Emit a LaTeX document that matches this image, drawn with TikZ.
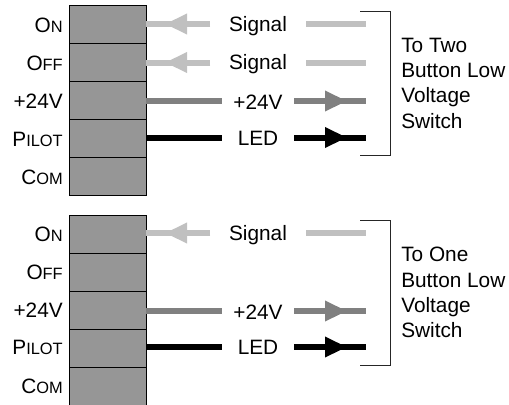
\documentclass[tikz,border=0pt]{standalone}
\usepackage{fontspec}
\setmainfont{Liberation Sans}
\usetikzlibrary{arrows.meta}

\definecolor{wirelight}{HTML}{C0C0C0}
\definecolor{wiremid}{HTML}{808080}
\definecolor{boxgray}{HTML}{969696}

\newcommand{\capsmall}[2]{#1{\fontsize{12.3}{12}\selectfont #2}}

\tikzset{
  rowbox/.style={draw=black, line width=0.75pt, fill=boxgray, minimum width=57.4pt, minimum height=28.6pt, inner sep=0pt, outer sep=0pt},
  pinlabel/.style={anchor=east, inner sep=0pt, font=\fontsize{15.6}{18}\selectfont},
  signame/.style={inner sep=0pt, outer sep=0pt, text height=11.2pt, text depth=0pt, font=\fontsize{15.6}{18}\selectfont, align=center},
  signalname/.style={signame, minimum width=72pt},
  powername/.style={signame, minimum width=54pt},
  wire/.style={line width=4.5pt},
  wirehead/.style={wire, -{Triangle[length=16.5pt, width=14.5pt]}},
  bracket/.style={draw=black!85, line width=0.75pt},
  switchname/.style={anchor=west, inner sep=0pt, align=left, font=\fontsize{15.6}{19}\selectfont}
}

\begin{document}
\begin{tikzpicture}[x=0.75pt, y=-0.75pt]
\useasboundingbox (0,0) rectangle (509,404);

% Wire heights, upper block
\def\wirea{24}
\def\wireb{62.5}
\def\wirec{101}
\def\wired{137.5}

% Wire heights, lower block
\def\wiree{233}
\def\wiref{311}
\def\wireg{347}

% Upper block
\node[rowbox] (onA) at (108.2, 24.7) {};
\node[rowbox] (offA) at (108.2, 63) {};
\node[rowbox] (powerA) at (108.2, 100.8) {};
\node[rowbox] (pilotA) at (108.2, 138.5) {};
\node[rowbox] (comA) at (108.2, 176.7) {};

\node[pinlabel] (onLabelA) at (63, 25) {\capsmall{O}{N}};
\node[pinlabel] (offLabelA) at (63, 63) {\capsmall{O}{FF}};
\node[pinlabel] (powerLabelA) at (63, 101) {+24V};
\node[pinlabel] (pilotLabelA) at (63, 139) {\capsmall{P}{ILOT}};
\node[pinlabel] (comLabelA) at (63, 177) {\capsmall{C}{OM}};

% Lower block
\node[rowbox] (onB) at (108.2, 234.5) {};
\node[rowbox] (offB) at (108.2, 272.5) {};
\node[rowbox] (powerB) at (108.2, 310.5) {};
\node[rowbox] (pilotB) at (108.2, 348.5) {};
\node[rowbox] (comB) at (108.2, 386.5) {};

\node[pinlabel] (onLabelB) at (63, 234) {\capsmall{O}{N}};
\node[pinlabel] (offLabelB) at (63, 272.5) {\capsmall{O}{FF}};
\node[pinlabel] (powerLabelB) at (63, 310.5) {+24V};
\node[pinlabel] (pilotLabelB) at (63, 347.5) {\capsmall{P}{ILOT}};
\node[pinlabel] (comLabelB) at (63, 386.5) {\capsmall{C}{OM}};

% Signal names
\node[signalname] (signalA) at (258, \wirea) {Signal};
\node[signalname] (signalB) at (258, \wireb) {Signal};
\node[powername] (powerName) at (258, \wirec + 1.5) {+24V};
\node[powername] (ledName) at (258, \wired + 0.5) {LED};
\node[signalname] (signalC) at (258, \wiree) {Signal};
\node[powername] (powerNameB) at (258, \wiref + 1.5) {+24V};
\node[powername] (ledNameB) at (258, \wireg + 0.5) {LED};

% Arrow tips and free wire ends
\coordinate (tipA) at (165, \wirea);
\coordinate (tipB) at (165, \wireb);
\coordinate (tipC) at (347, \wirec);
\coordinate (tipD) at (347, \wired);
\coordinate (tipE) at (165, \wiree);
\coordinate (tipF) at (347, \wiref);
\coordinate (tipG) at (347, \wireg);
\coordinate (endA) at (366, \wirea);
\coordinate (endB) at (366, \wireb);
\coordinate (endC) at (366, \wirec);
\coordinate (endD) at (366, \wired);
\coordinate (endE) at (366, \wiree);
\coordinate (endF) at (366, \wiref);
\coordinate (endG) at (366, \wireg);

% Upper wires
\draw[wire, wirelight] (signalA.west) -- (onA.east |- tipA);
\draw[wirehead, wirelight] (signalA.west) -- (tipA);
\draw[wire, wirelight] (signalA.east) -- (endA);
\draw[wire, wirelight] (signalB.west) -- (offA.east |- tipB);
\draw[wirehead, wirelight] (signalB.west) -- (tipB);
\draw[wire, wirelight] (signalB.east) -- (endB);
\draw[wire, wiremid] (powerA.east |- tipC) -- (powerName.west |- tipC);
\draw[wire, wiremid] (powerName.east |- tipC) -- (endC);
\draw[wirehead, wiremid] (powerName.east |- tipC) -- (tipC);
\draw[wire, black] (pilotA.east |- tipD) -- (ledName.west |- tipD);
\draw[wire, black] (ledName.east |- tipD) -- (endD);
\draw[wirehead, black] (ledName.east |- tipD) -- (tipD);

% Lower wires
\draw[wire, wirelight] (signalC.west) -- (onB.east |- tipE);
\draw[wirehead, wirelight] (signalC.west) -- (tipE);
\draw[wire, wirelight] (signalC.east) -- (endE);
\draw[wire, wiremid] (powerB.east |- tipF) -- (powerNameB.west |- tipF);
\draw[wire, wiremid] (powerNameB.east |- tipF) -- (endF);
\draw[wirehead, wiremid] (powerNameB.east |- tipF) -- (tipF);
\draw[wire, black] (pilotB.east |- tipG) -- (ledNameB.west |- tipG);
\draw[wire, black] (ledNameB.east |- tipG) -- (endG);
\draw[wirehead, black] (ledNameB.east |- tipG) -- (tipG);

% Brackets
\coordinate (bracketTopA) at (360, 11);
\coordinate (bracketCornerA) at (390, 11);
\coordinate (bracketLowA) at (390, 155.5);
\coordinate (bracketEndA) at (360, 155.5);
\draw[bracket] (bracketTopA) -- (bracketCornerA) -- (bracketLowA) -- (bracketEndA);

\coordinate (bracketTopB) at (360, 220.5);
\coordinate (bracketCornerB) at (390, 220.5);
\coordinate (bracketLowB) at (390, 365);
\coordinate (bracketEndB) at (360, 365);
\draw[bracket] (bracketTopB) -- (bracketCornerB) -- (bracketLowB) -- (bracketEndB);

% Switch names
\node[switchname] (switchTwo) at (401, 83) {To Two\\Button Low\\Voltage\\Switch};
\node[switchname] (switchOne) at (401, 292.5) {To One\\Button Low\\Voltage\\Switch};

\end{tikzpicture}
\end{document}
